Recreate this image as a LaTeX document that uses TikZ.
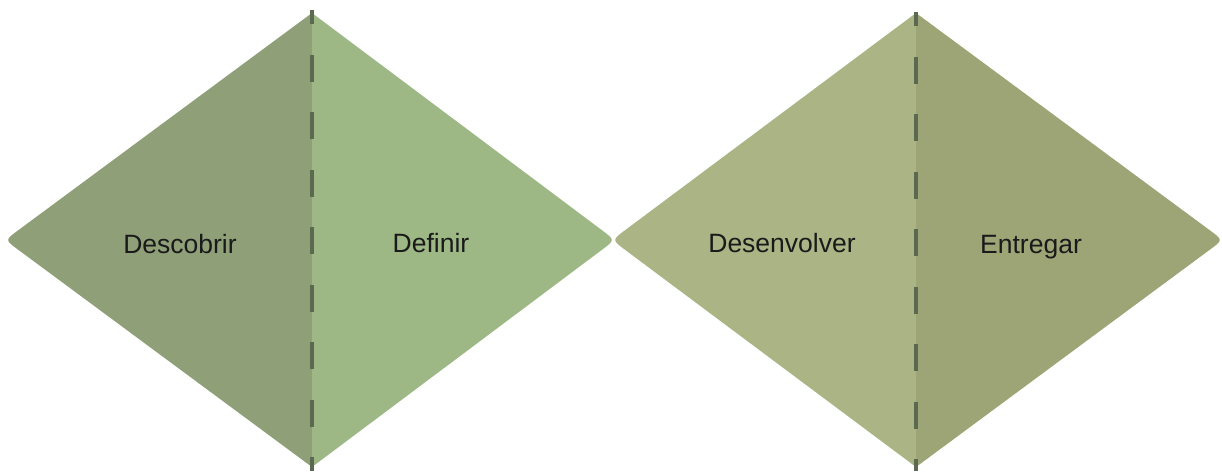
\documentclass[tikz,border=0pt]{standalone}
\usepackage{fontspec}
\setmainfont{Liberation Sans}
\definecolor{cDescobrir}{HTML}{8FA079}
\definecolor{cDefinir}{HTML}{9DB885}
\definecolor{cDesenvolver}{HTML}{AAB484}
\definecolor{cEntregar}{HTML}{9DA576}
\definecolor{cDash}{HTML}{5A6950}
\definecolor{cText}{HTML}{1A1A1A}
\begin{document}
\begin{tikzpicture}[x=1pt,y=-1pt,
  label/.style={anchor=base,text=cText,font=\fontsize{26.5}{30}\selectfont,inner sep=0pt},
  divider/.style={draw=cDash,line width=3.2pt,dash pattern=on 27pt off 30.5pt,dash phase=13pt}]
\useasboundingbox (0,0) rectangle (1222,471);
% diamond 1
\fill[cDescobrir] (312,13) -- (17.9,230.5) .. controls (5,240) and (5,240) .. (17.9,249.5) -- (312,467) -- cycle;
\fill[cDefinir] (312,13) -- (602.2,230.4) .. controls (615,240) and (615,240) .. (602.2,249.6) -- (312,467) -- cycle;
% diamond 2
\fill[cDesenvolver] (916,13) -- (624.8,230.4) .. controls (612,240) and (612,240) .. (624.8,249.6) -- (916,467) -- cycle;
\fill[cEntregar] (916,13) -- (1210.1,230.5) .. controls (1223,240) and (1223,240) .. (1210.1,249.5) -- (916,467) -- cycle;
% dividers
\coordinate (t1) at (312,10);
\coordinate (b1) at (312,471);
\coordinate (t2) at (916,12);
\coordinate (b2) at (916,471);
\draw[divider] (t1) -- (b1);
\draw[divider] (t2) -- (b2);
% labels
\node[label] (descobrir) at (180,253) {Descobrir};
\node[label] (definir) at (431,252) {Definir};
\node[label] (desenvolver) at (782,252) {Desenvolver};
\node[label] (entregar) at (1031,253) {Entregar};
\end{tikzpicture}
\end{document}
